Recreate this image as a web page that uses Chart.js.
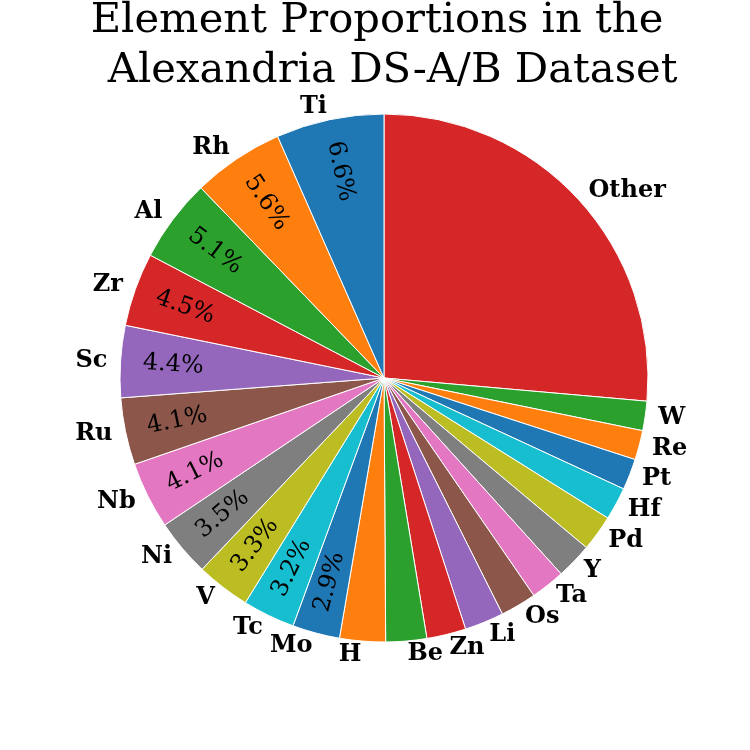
<!DOCTYPE html>
<html>
<head>
<meta charset="utf-8">
<script src="https://cdn.jsdelivr.net/npm/chart.js@4.4.0/dist/chart.umd.min.js"></script>
<style>
  html, body { margin: 0; padding: 0; background: #fff; }
  #wrap { width: 750px; height: 750px; }
</style>
</head>
<body>
<div id="wrap"><canvas id="pie" width="750" height="750"></canvas></div>
<script>
// --- data, clockwise from 12 o'clock ---
const elements = ['Other', 'W', 'Re', 'Pt', 'Hf', 'Pd', 'Y', 'Ta', 'Os', 'Li', 'Zn', 'Be',
                  'H', 'Mo', 'Tc', 'V', 'Ni', 'Nb', 'Ru', 'Sc', 'Zr', 'Al', 'Rh', 'Ti'];
const shares = [26.4, 1.8, 1.8, 1.9, 2.0, 2.2, 2.2, 2.1, 2.2, 2.4, 2.4, 2.5,
                2.8, 2.9, 3.2, 3.3, 3.5, 4.1, 4.1, 4.4, 4.5, 5.1, 5.6, 6.6];
const sliceColors = ['#d62728', '#2ca02c', '#ff7f0e', '#1f77b4', '#17becf', '#bcbd22',
                     '#7f7f7f', '#e377c2', '#8c564b', '#9467bd', '#d62728', '#2ca02c',
                     '#ff7f0e', '#1f77b4', '#17becf', '#bcbd22', '#7f7f7f', '#e377c2',
                     '#8c564b', '#9467bd', '#d62728', '#2ca02c', '#ff7f0e', '#1f77b4'];
const titleLines = ['Element Proportions in the', ' Alexandria DS-A/B Dataset'];

// title + labels drawn like matplotlib's pie
const pieText = {
  id: 'pieText',
  afterDatasetsDraw(chart) {
    const ctx = chart.ctx;
    const arcs = chart.getDatasetMeta(0).data;
    const total = shares.reduce((a, b) => a + b, 0);
    ctx.save();
    ctx.fillStyle = '#000';
    arcs.forEach((arc, i) => {
      const p = arc.getProps(['x', 'y', 'startAngle', 'endAngle', 'outerRadius'], true);
      const mid = (p.startAngle + p.endAngle) / 2;
      const c = Math.cos(mid), s = Math.sin(mid);
      // outer label
      ctx.font = 'bold 24px "DejaVu Serif"';
      ctx.textBaseline = 'middle';
      ctx.textAlign = c > 0 ? 'left' : 'right';
      ctx.fillText(elements[i], p.x + c * p.outerRadius * 1.05, p.y + s * p.outerRadius * 1.05);
      // percentage (not for the small ones, nor for "Other")
      const pct = shares[i] / total * 100;
      if (pct < 2.85 || elements[i] === 'Other') return;
      ctx.save();
      ctx.translate(p.x + c * p.outerRadius * 0.8, p.y + s * p.outerRadius * 0.8);
      ctx.rotate(c < 0 ? mid + Math.PI : mid);
      ctx.font = '24px "DejaVu Serif"';
      ctx.textAlign = 'center';
      ctx.fillText(pct.toFixed(1) + '%', 0, 0);
      ctx.restore();
    });
    ctx.font = '41.7px "DejaVu Serif"';
    ctx.textAlign = 'center';
    ctx.textBaseline = 'alphabetic';
    ctx.fillText(titleLines[0], 377, 32);
    ctx.fillText(titleLines[1], 386, 82);
    ctx.restore();
  }
};

new Chart(document.getElementById('pie'), {
  type: 'pie',
  data: {
    labels: elements,
    datasets: [{
      data: shares,
      backgroundColor: sliceColors,
      borderColor: '#fff',
      borderWidth: 1,
      radius: 264
    }]
  },
  options: {
    responsive: false,
    animation: false,
    layout: { padding: { left: 120, right: 102, top: 114, bottom: 108 } },
    plugins: { legend: { display: false }, title: { display: false }, tooltip: { enabled: false } }
  },
  plugins: [pieText]
});
</script>
</body>
</html>
